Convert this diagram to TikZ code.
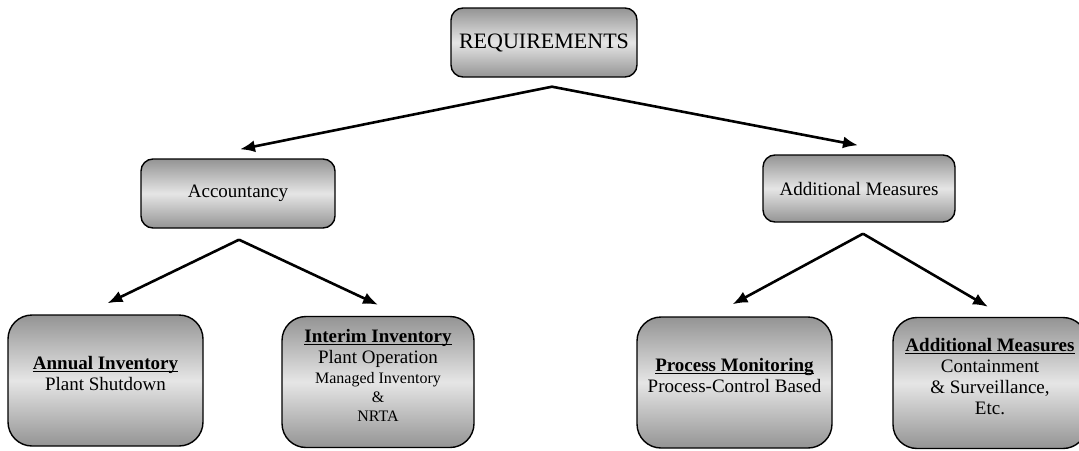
\documentclass[tikz,border=0pt]{standalone}
\usepackage{fontspec}
\setmainfont{Liberation Serif}
\usetikzlibrary{arrows.meta}
\newcommand\ulbf[1]{\underline{\smash{\textbf{#1}}}}
\begin{document}
\begin{tikzpicture}[x=1pt,y=-1pt]
    \tikzstyle{box}=[draw=black, line width=1.4pt, rounded corners=12pt, top color=black!42, bottom color=black!42, middle color=black!10, inner sep=0pt, align=center, font=\fontsize{19}{21}\selectfont]
    \tikzstyle{leaf}=[box, rounded corners=24pt, minimum height=131pt]
    \tikzstyle{arr}=[line width=2.6pt, -{Latex[length=15pt,width=12pt]}]
    \path[use as bounding box, clip] (0,0) rectangle (1079,450);
    \node[box, minimum width=186pt, minimum height=69pt, font=\fontsize{22}{24}\selectfont] (req) at (544,42.5) {REQUIREMENTS};
    \node[box, minimum width=194pt, minimum height=69pt] (acc) at (238,193.5) {Accountancy};
    \node[box, minimum width=192pt, minimum height=67pt] (add) at (859,188.5) {Additional Measures};
    \node[leaf, minimum width=195pt] (ann) at (105.5,380.5) {\ulbf{Annual Inventory}\\Plant Shutdown};
    \node[leaf, minimum width=192pt] (int) at (378,382) {\ulbf{Interim Inventory}\\Plant Operation\\[-1pt]{\fontsize{16}{18}\selectfont Managed Inventory}\\[-2pt]{\fontsize{16}{18}\selectfont \&}\\[-2pt]{\fontsize{16}{18}\selectfont NRTA}};
    \node[leaf, minimum width=195pt] (pro) at (734.5,382.5) {\ulbf{Process Monitoring}\\Process-Control Based};
    \node[leaf, minimum width=194pt] (add2) at (990,383) {\ulbf{Additional Measures}\\Containment\\\& Surveillance,\\Etc.};
    \draw[arr] ([xshift=8pt,yshift=-9pt]req.south) -- ([xshift=2pt,yshift=9pt]acc.north);
    \draw[arr] ([xshift=8pt,yshift=-9pt]req.south) -- ([xshift=-1pt,yshift=9pt]add.north);
    \draw[arr] ([xshift=1pt,yshift=-11pt]acc.south) -- ([xshift=2pt,yshift=11pt]ann.north);
    \draw[arr] ([xshift=1pt,yshift=-11pt]acc.south) -- ([yshift=11pt]int.north);
    \draw[arr] ([xshift=4pt,yshift=-11pt]add.south) -- ([xshift=-2pt,yshift=12pt]pro.north);
    \draw[arr] ([xshift=4pt,yshift=-11pt]add.south) -- ([xshift=-2pt,yshift=10pt]add2.north);
\end{tikzpicture}
\end{document}
